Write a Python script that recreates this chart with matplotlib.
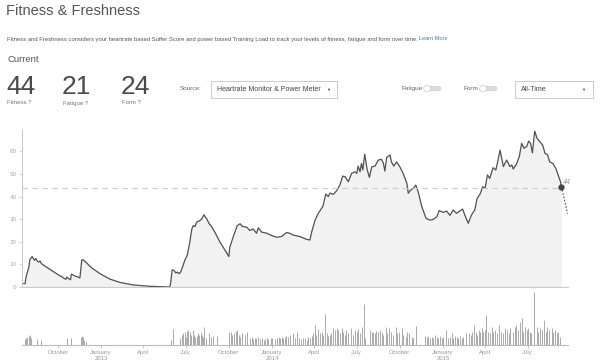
import numpy as np
import matplotlib.pyplot as plt
import matplotlib.dates as mdates
from matplotlib.patches import FancyBboxPatch, Circle, Rectangle

plt.rcParams['font.family'] = ['Liberation Sans', 'DejaVu Sans']

# Fitness curve: days since 2012-07-20 and fitness value
fit_days = [0, 3, 5, 8, 11, 13, 18, 21, 23, 26, 29, 32, 35, 38, 56, 74, 90, 92, 96,
            100, 102, 107, 117, 120, 124, 127, 131, 145, 163, 184, 206, 234, 270, 312,
            314, 317, 321, 325, 328, 332, 335, 339, 344, 349, 354, 359, 362, 366, 369,
            376, 380, 385, 388, 391, 396, 401, 408, 419, 430, 438, 440, 447, 456, 462,
            467, 476, 483, 490, 497, 501, 508, 519, 529, 540, 551, 561,
            568, 575, 590, 604, 611, 615, 622, 629, 636, 639, 645, 650, 654, 661, 668,
            675, 681, 686, 693, 700, 707, 711, 714, 718, 721, 724, 728, 733, 738, 743,
            750, 757, 764, 768, 771, 775, 782, 785, 790, 796, 803, 810, 818, 821, 826,
            832, 837, 842, 850, 859, 867, 874, 882, 887, 896, 903, 910, 917, 924, 931,
            937, 942, 949, 956, 963, 968, 974, 980, 985, 990, 995, 1002, 1008, 1011,
            1017, 1024, 1031, 1038, 1042, 1045, 1052, 1058, 1063, 1068, 1074, 1078,
            1082, 1086, 1091, 1096, 1102, 1108, 1113, 1118, 1123, 1130, 1136, 1141,
            1146, 1148]
fit_vals = [1.5, 1.5, 4.4, 6.6, 8.8, 12.0, 13.5, 12.5, 11.8, 12.6, 11.5, 11.0, 11.5,
            10.3, 7.8, 5.4, 3.4, 4.4, 3.7, 3.2, 5.7, 5.1, 4.3, 4.0, 12.0, 12.0, 11.3,
            8.5, 5.9, 3.5, 2.0, 0.9, 0.3, 0.0, 2.2, 7.6, 7.3, 6.2, 6.6, 5.9, 6.6, 8.8,
            11.8, 14.0, 19.0, 25.7, 27.2, 26.8, 28.7, 29.4, 30.1, 32.0, 30.9, 30.1, 28.0,
            26.8, 24.3, 19.9, 16.2, 13.5, 17.6, 22.0, 27.2, 28.0, 26.8, 26.5, 25.0, 25.7,
            23.8, 26.2, 24.3, 23.8, 22.8, 22.0, 22.4, 24.1,
            23.8, 23.0, 22.3, 21.1, 20.8, 24.5, 29.6, 32.6, 34.8, 35.8, 41.2, 40.0, 41.6,
            41.0, 42.6, 45.1, 49.1, 48.8, 46.6, 50.3, 51.0, 50.3, 53.5, 51.0, 54.7, 51.8,
            58.8, 52.2, 48.5, 53.2, 53.5, 56.2, 56.5, 54.7, 51.3, 57.4, 58.4, 55.4, 53.5,
            55.4, 53.2, 50.3, 45.9, 41.5, 42.9, 43.7, 45.1, 42.2, 35.5, 30.4, 29.6, 29.9,
            31.1, 33.8, 33.0, 33.6, 31.7, 34.1, 32.6, 33.6, 34.5, 31.7, 28.2, 31.9, 34.1,
            39.2, 41.0, 44.4, 43.7, 49.6, 48.1, 52.8, 51.8, 54.6, 60.6, 53.3, 56.2, 53.3,
            54.0, 52.2, 54.4, 57.7, 63.6, 61.4, 62.2, 64.6, 63.6, 59.4, 69.0, 65.8, 64.3,
            62.8, 59.1, 58.7, 55.4, 54.6, 52.5, 49.6, 46.6, 44.4]
current_fitness = 44
proj_day = 1161
proj_val = 32.5

# Daily effort bars (days since 2012-07-20, relative height)
bar_days = [3, 5, 8, 11, 13, 16, 28, 36, 92, 102, 122, 124, 126, 129, 133, 314, 318,
            319, 334, 337, 341, 344, 346, 349, 351, 355, 358, 361, 364, 366, 369, 372,
            375, 378, 381, 383, 386, 389, 395, 399, 405, 413, 439, 442, 445, 448, 450,
            453, 456, 459, 462, 465, 467, 472, 477, 483, 487, 490, 494, 497, 501, 504,
            508, 512, 515, 519, 522, 527, 531, 536, 540, 544, 547, 551, 554, 558, 561,
            565, 568, 574, 579, 584, 588, 593, 597, 600, 604, 608, 611, 615, 618, 622,
            625, 629, 633, 636, 640, 644, 647, 650, 654, 657, 661, 665, 668, 672, 675,
            679, 682, 686, 689, 693, 698, 702, 707, 711, 714, 718, 722, 726, 729, 739,
            743, 746, 750, 753, 757, 761, 764, 768, 773, 776, 780, 785, 789, 795, 798,
            802, 807, 810, 816, 819, 823, 828, 832, 837, 857, 860, 864, 867, 871, 874,
            878, 882, 885, 889, 892, 896, 901, 906, 910, 914, 917, 921, 924, 928, 931,
            935, 938, 944, 951, 954, 958, 961, 966, 968, 971, 974, 978, 981, 985, 988,
            992, 995, 999, 1002, 1006, 1010, 1015, 1020, 1024, 1027, 1031, 1035, 1038,
            1045, 1049, 1052, 1056, 1059, 1063, 1067, 1070, 1074, 1077, 1081, 1084,
            1090, 1095, 1099, 1102, 1106, 1111, 1115, 1118, 1122, 1127, 1131, 1134,
            1138, 1141, 1145]
bar_vals = [18, 22, 25, 28, 30, 22, 18, 15, 20, 22, 25, 28, 25, 15, 8, 15, 48, 30, 20,
            30, 35, 40, 25, 42, 45, 38, 30, 45, 30, 25, 28, 35, 30, 38, 30, 25, 55, 20,
            35, 25, 28, 28, 40, 38, 30, 35, 28, 42, 45, 30, 25, 35, 20, 30, 38, 22, 25,
            18, 20, 22, 25, 18, 20, 15, 18, 20, 18, 20, 22, 18, 20, 25, 22, 25, 22, 25,
            28, 25, 30, 35, 20, 38, 20, 18, 20, 22, 15, 25, 20, 28, 35, 60, 30, 48, 35,
            40, 30, 92, 35, 28, 30, 35, 50, 45, 52, 45, 35, 50, 40, 30, 45, 35, 50, 30,
            45, 40, 48, 35, 55, 122, 20, 45, 38, 40, 35, 42, 38, 45, 40, 30, 55, 35, 50,
            40, 30, 55, 35, 40, 50, 30, 25, 40, 35, 25, 20, 58, 28, 25, 28, 22, 25, 22,
            30, 25, 20, 28, 20, 25, 45, 22, 25, 35, 20, 28, 25, 22, 28, 20, 25, 35, 35,
            30, 40, 60, 40, 30, 45, 38, 50, 40, 45, 90, 40, 35, 55, 40, 45, 35, 60, 40,
            35, 50, 45, 35, 50, 40, 55, 60, 45, 70, 80, 40, 55, 45, 50, 40, 35, 158, 55,
            40, 50, 45, 75, 40, 55, 45, 50, 40, 45, 35, 40, 25]

tick_dates = ['2012-10-01', '2013-01-01', '2013-04-01', '2013-07-01', '2013-10-01',
              '2014-01-01', '2014-04-01', '2014-07-01', '2014-10-01', '2015-01-01',
              '2015-04-01', '2015-07-01']
tick_labels = ['October', 'January\n2013', 'April', 'July', 'October', 'January\n2014',
               'April', 'July', 'October', 'January\n2015', 'April', 'July']

base = mdates.date2num(np.datetime64('2012-07-20'))
fx = base + np.array(fit_days)
bx = base + np.array(bar_days)
ticks = [mdates.date2num(np.datetime64(d)) for d in tick_dates]
xmin, xmax = base - 3.6, base + 1162

fig = plt.figure(figsize=(6, 3.64), dpi=100)

# main fitness chart
ax = fig.add_axes([22 / 600, 1 - 287 / 364, 546 / 600, 157 / 364])
ax.fill_between(fx, fit_vals, 0, color='#f2f2f2', lw=0)
ax.plot(fx, fit_vals, color='#505050', lw=0.9)
ax.axhline(current_fitness, xmax=(fx[-1] - xmin) / (xmax - xmin), color='#cccccc',
           lw=0.8, dashes=(5, 4))
ax.plot([fx[-1], base + proj_day], [fit_vals[-1], proj_val], color='#555555', lw=0.8,
        ls=(0, (1.5, 1.5)))
ax.plot(fx[-1], fit_vals[-1], 'o', color='#444444', ms=3.5)
ax.text(fx[-1] + 4, current_fitness + 0.5, str(current_fitness), fontsize=5,
        style='italic', color='#999999', va='bottom')
ax.set_xlim(xmin, xmax)
ax.set_ylim(0, 69.5)
ax.set_yticks([0, 10, 20, 30, 40, 50, 60])
ax.set_xticks([])
for s in ['top', 'right']:
    ax.spines[s].set_visible(False)
for s in ['left', 'bottom']:
    ax.spines[s].set_color('#cccccc')
    ax.spines[s].set_linewidth(0.8)
ax.tick_params(axis='y', labelsize=4.5, labelcolor='#aaaaaa', color='#cccccc',
               length=2, width=0.6, pad=2)

# daily bars
ax2 = fig.add_axes([22 / 600, 1 - 345 / 364, 546 / 600, 55 / 364])
ax2.vlines(bx, 0, bar_vals, color='#aaaaaa', lw=0.7)
ax2.set_xlim(xmin, xmax)
ax2.set_ylim(0, 165)
ax2.set_yticks([])
ax2.set_xticks(ticks)
ax2.set_xticklabels(tick_labels)
for s in ['top', 'right', 'left']:
    ax2.spines[s].set_visible(False)
ax2.spines['bottom'].set_color('#bbbbbb')
ax2.spines['bottom'].set_linewidth(0.8)
ax2.tick_params(axis='x', labelsize=4.3, labelcolor='#999999', color='#bbbbbb',
                length=2, width=0.6, pad=1.5)

# header overlay in pixel coordinates
ov = fig.add_axes([0, 0, 1, 1], zorder=-1)
ov.set_xlim(0, 600)
ov.set_ylim(364, 0)
ov.axis('off')

ov.text(6, 11, 'Fitness & Freshness', fontsize=10.5, color='#555555', va='center')
ov.text(7, 39, 'Fitness and Freshness considers your heartrate based Suffer Score and '
        'power based Training Load to track your levels of fitness, fatigue and form '
        'over time.', fontsize=4.22, color='#555555', va='center')
ov.text(419, 39, 'Learn More', fontsize=4.0, color='#3a7fc1', va='center')
ov.text(7, 60, 'Current', fontsize=6.8, color='#555555', va='center')

for x0, num, lab in [(6, '44', 'Fitness ?'), (62, '21', 'Fatigue ?'), (121, '24', 'Form ?')]:
    ov.text(x0, 87, num, fontsize=19, color='#4a4a4a', va='center')
    ov.text(x0 + 1, 103, lab, fontsize=4.3, color='#777777', va='center')

ov.text(180, 88, 'Source:', fontsize=4.6, color='#666666', va='center')
ov.add_patch(Rectangle((211, 81), 126, 17, fc='white', ec='#cccccc', lw=0.7))
ov.text(217, 89.5, 'Heartrate Monitor & Power Meter', fontsize=5, color='#444444',
        va='center')
ov.text(328, 89.5, '▼', fontsize=3, color='#444444', va='center', ha='center')

for x0, lab, tx in [(402, 'Fatigue', 423), (463, 'Form', 479)]:
    ov.text(x0, 88.5, lab, fontsize=4.6, color='#666666', va='center')
    ov.add_patch(FancyBboxPatch((tx + 2, 86.5), 16, 4, boxstyle='round,pad=0,rounding_size=2',
                                fc='#dddddd', ec='#cccccc', lw=0.5))
    ov.add_patch(Circle((tx + 4, 88.5), 3.3, fc='white', ec='#cccccc', lw=0.5))

ov.add_patch(Rectangle((515, 81), 78, 17, fc='white', ec='#cccccc', lw=0.7))
ov.text(521, 89.5, 'All-Time', fontsize=5, color='#444444', va='center')
ov.text(583, 89.5, '▼', fontsize=3, color='#444444', va='center', ha='center')

fig.savefig('out.png', dpi=100)
